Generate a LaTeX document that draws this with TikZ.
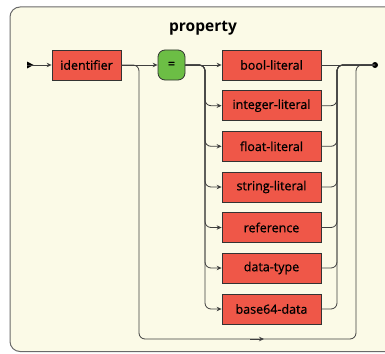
\documentclass[tikz,border=0pt]{standalone}
\usepackage{fontspec}
\setmainfont{Open Sans}
\newfontfamily\boxfont{Open Sans}[FakeBold=0.8]
\usetikzlibrary{arrows.meta}
\definecolor{bg}{HTML}{FBFAE7}
\definecolor{nt}{HTML}{EF5748}
\definecolor{tm}{HTML}{6CBE45}
\definecolor{ln}{HTML}{3F3F3F}
\definecolor{fr}{HTML}{6A6A6A}
\begin{document}
\begin{tikzpicture}[x=1pt,y=-1pt,
  ntbox/.style={draw=black!80, line width=0.8pt, fill=nt, minimum height=30pt, inner sep=0pt, font=\boxfont\fontsize{12.5}{14}\selectfont, text=black},
  tmbox/.style={draw=black!80, line width=0.8pt, fill=tm, minimum height=30pt, minimum width=27pt, rounded corners=7pt, inner sep=0pt, font=\boxfont\fontsize{12.5}{14}\selectfont},
  wire/.style={draw=ln, line width=0.8pt, rounded corners=6pt},
  arr/.style={wire, -{Stealth[length=5pt,width=4.5pt]}}]
\useasboundingbox (0,0) rectangle (385,353);
\draw[fill=bg, draw=fr, line width=1pt, rounded corners=10pt] (10,7) rectangle (420,351.5);
\node[font=\bfseries\fontsize{15.5}{18}\selectfont] (title) at (203,28) {property};
\coordinate (start) at (27,65);
\node[ntbox, minimum width=69pt] (id) at (86.5,65) {identifier};
\node[tmbox] (eq) at (171.5,65) {=};
\foreach \n/\t/\y in {b1/bool-literal/65, b2/integer-literal/105.7, b3/float-literal/146.3, b4/string-literal/187, b5/reference/227.5, b6/data-type/268, b7/base64-data/309}
  \node[ntbox, minimum width=99pt] (\n) at (271.5,\y) {\t};
\fill[black] (27,61.5) -- (33.5,65) -- (27,68.5) -- cycle;
\coordinate (end) at (375,65);
\fill[black] (end) circle (3pt);
\coordinate (vx) at (205,65);
\coordinate (mx) at (337,65);
% start to identifier
\draw[arr] (start) -- (id.west);
% identifier to =
\draw[arr] (id.east) -- (eq.west);
% bypass loop
\coordinate (bl) at (139,339);
\coordinate (br) at (356,339);
\draw[wire] (id.east) -| (bl) -- (br) |- (end);
\coordinate (ba) at (250,339);
\coordinate (bb) at (264,339);
\draw[arr] (ba) -- (bb);
% choice branches
\draw[arr] (eq.east) -- (b1.west);
\foreach \n in {b2,b3,b4,b5,b6,b7}{
  \draw[arr] (eq.east) -| (vx |- \n.west) -- (\n.west);
}
% merges
\draw[wire] (b1.east) -- (end);
\foreach \n in {b2,b3,b4,b5,b6,b7}{
  \draw[wire] (\n.east) -| (mx) -- (end);
}
\end{tikzpicture}
\end{document}
